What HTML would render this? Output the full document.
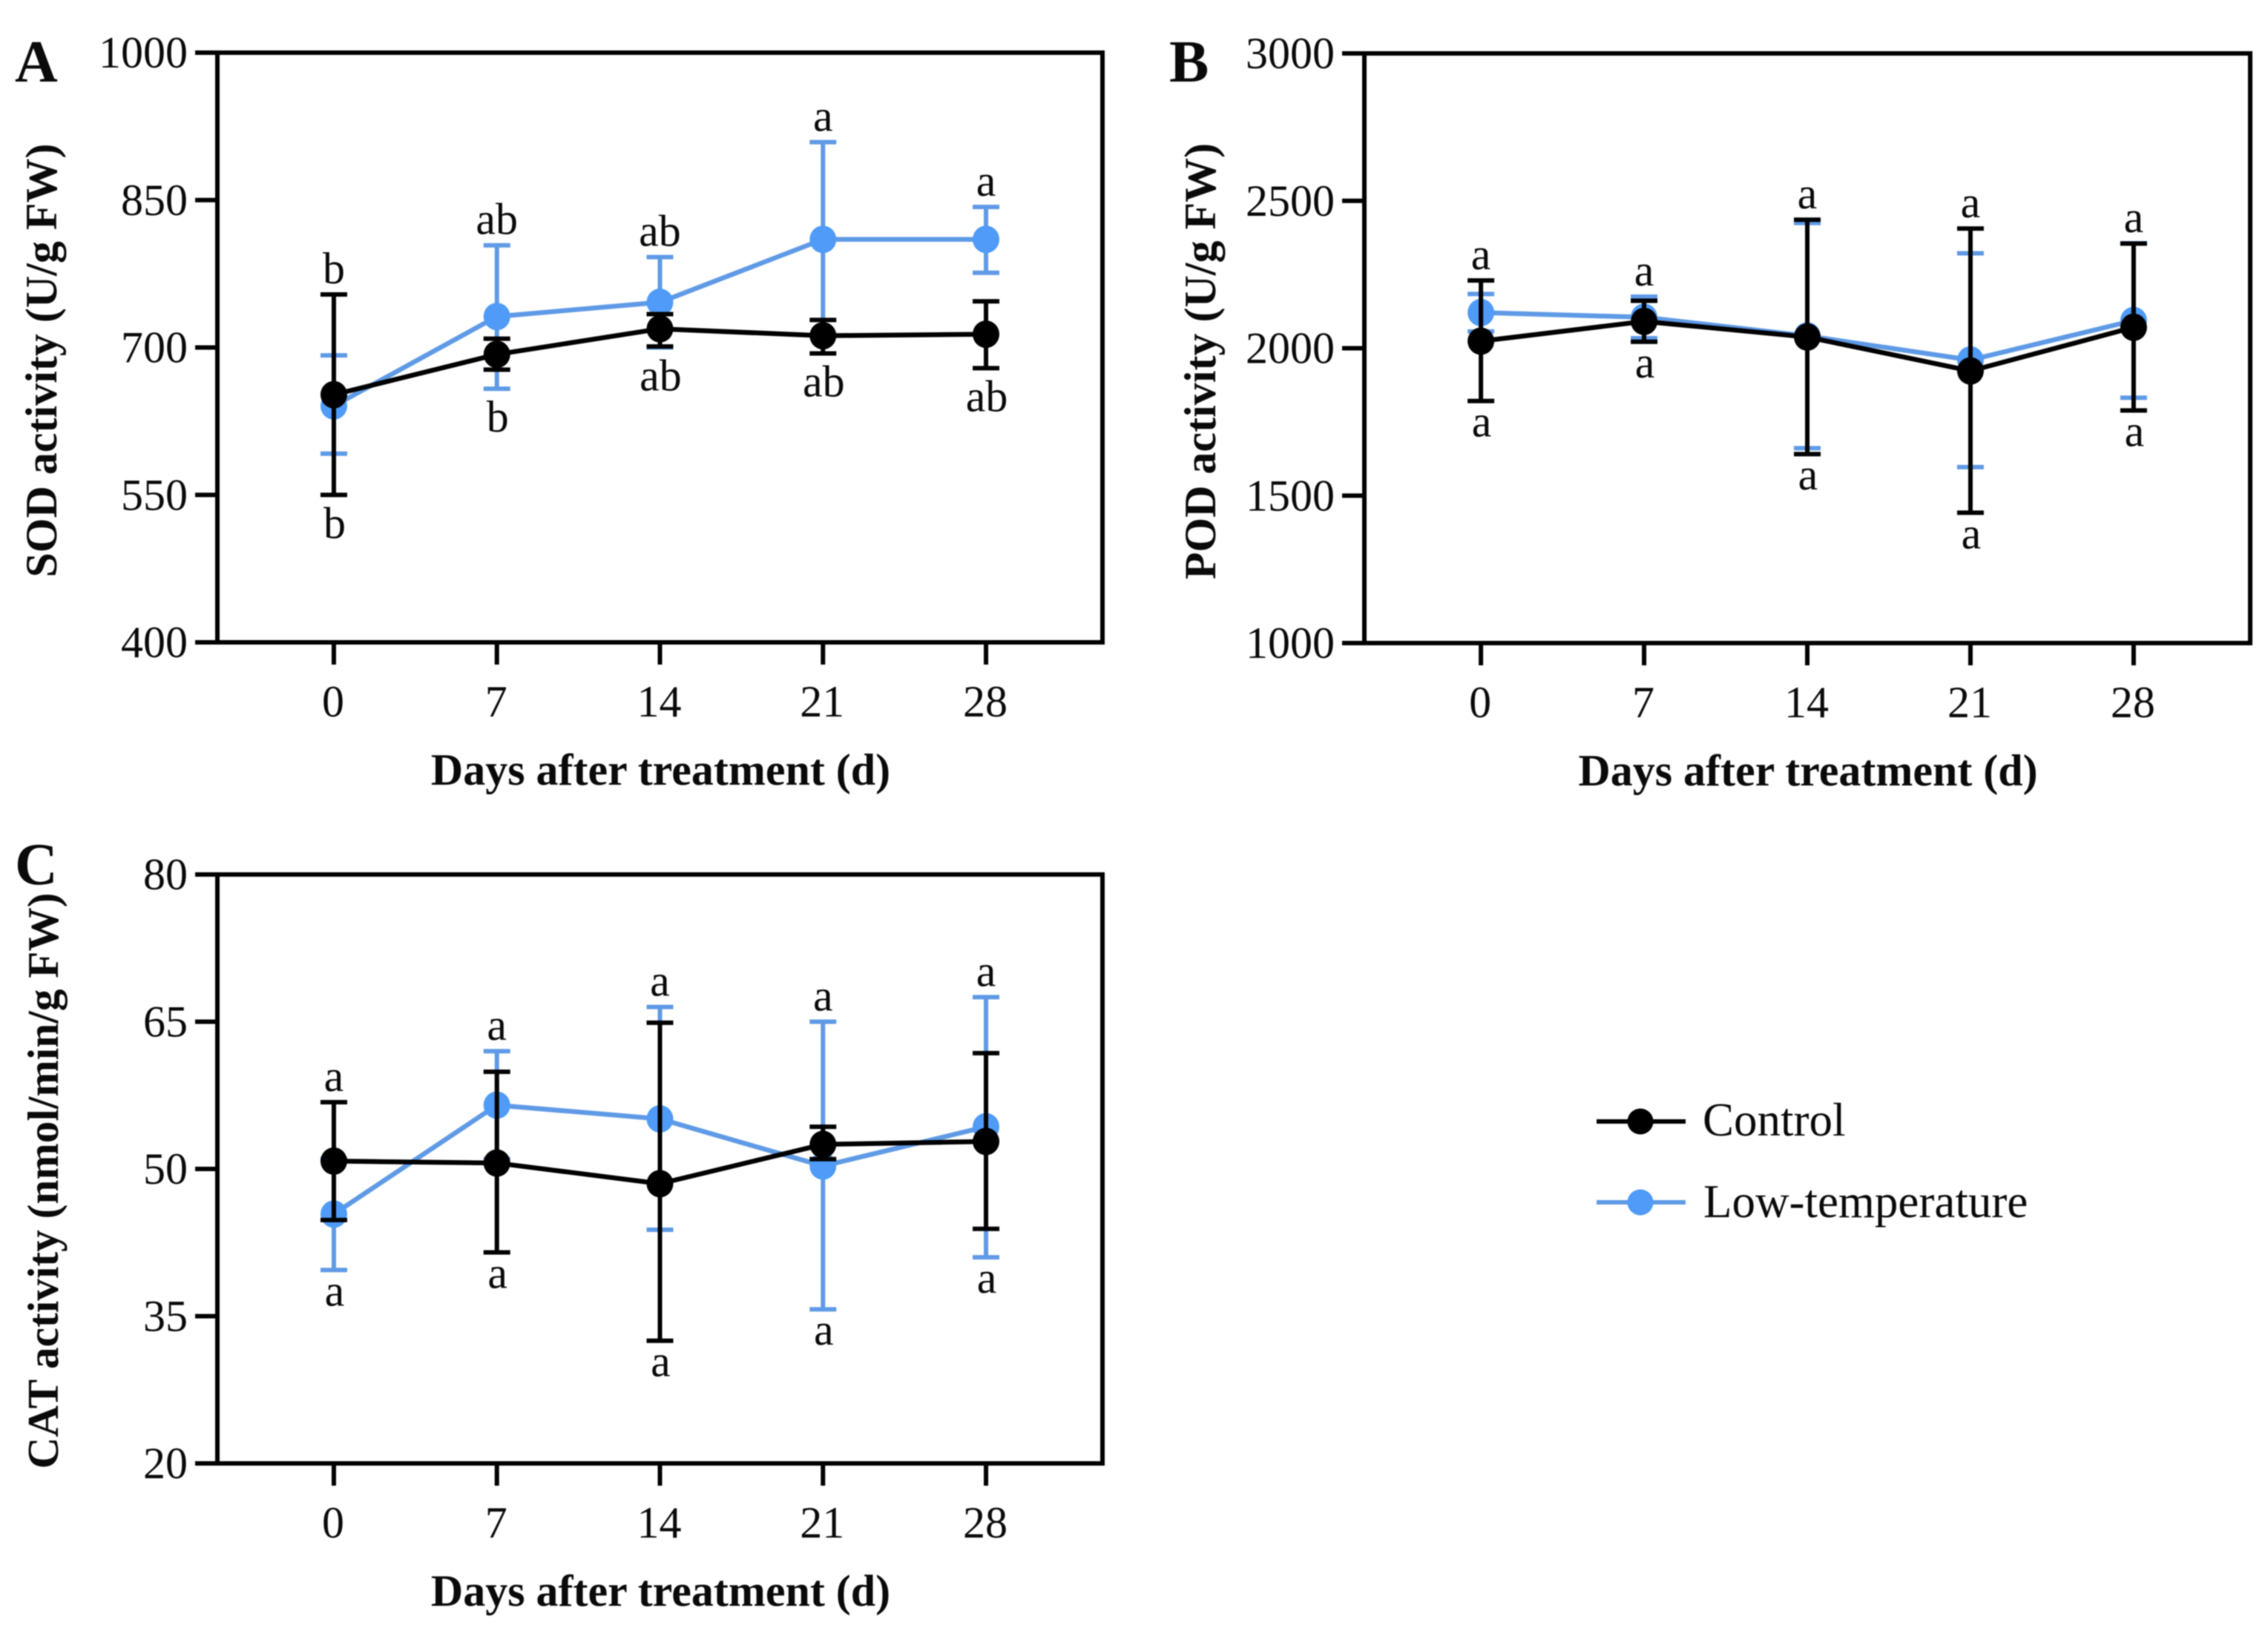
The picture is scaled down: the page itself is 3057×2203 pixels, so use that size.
<!DOCTYPE html>
<html lang="en">
<head>
<meta charset="utf-8">
<title>Antioxidant enzyme activity after low-temperature treatment</title>
<style>
  html, body { margin: 0; padding: 0; background: #fff; }
  svg { display: block; filter: blur(0.7px); }
  text { font-family: "Liberation Serif", serif; fill: #0a0a0a; }
</style>
</head>
<body>
<svg id="figure" xmlns="http://www.w3.org/2000/svg" width="3057" height="2203" viewBox="0 0 3057 2203">
  <rect x="0" y="0" width="3057" height="2203" fill="#ffffff"/>
  <g>
    <g>
      <line x1="2152" x2="2272" y1="1512" y2="1512" stroke="#000000" stroke-width="6"/>
      <circle cx="2211" cy="1512" r="17.5" fill="#000000"/>
      <text x="2295" y="1531" font-size="63">Control</text>
    </g>
    <g>
      <line x1="2152" x2="2272" y1="1621" y2="1621" stroke="#5f9ae6" stroke-width="6"/>
      <circle cx="2211" cy="1621" r="17.5" fill="#4f9bf7"/>
      <text x="2296" y="1641" font-size="63">Low-temperature</text>
    </g>
  </g>
</svg>
<script>
// Shared axis data
const days = [0, 7, 14, 21, 28];
const xTickLabels = ["0", "7", "14", "21", "28"];
const xAxisTitle = "Days after treatment (d)";

// Panel A: SOD
const sodTicks = [400, 550, 700, 850, 1000];
const sodControl = [652, 693, 719, 712, 713.5];
const sodControlUpper = [754, 709, 734, 728, 747];
const sodControlLower = [550, 677.5, 701, 694, 679];
const sodLow = [640.5, 731.5, 746, 810, 810];
const sodLowUpper = [692, 804, 792, 909, 843];
const sodLowLower = [592, 658, 700, 712, 776];
const sodTopLetters = ["b", "ab", "ab", "a", "a"];
const sodBottomLetters = ["b", "b", "ab", "ab", "ab"];

// Panel B: POD
const podTicks = [1000, 1500, 2000, 2500, 3000];
const podControl = [2024, 2091, 2038, 1923, 2071];
const podControlUpper = [2230, 2161, 2436, 2406, 2355];
const podControlLower = [1821, 2022, 1641, 1442, 1789];
const podLow = [2121, 2105, 2042, 1960, 2094];
const podLowUpper = [2184, 2175, 2425, 2322, 2356];
const podLowLower = [2057, 2034, 1661, 1597, 1832];
const podTopLetters = ["a", "a", "a", "a", "a"];
const podBottomLetters = ["a", "a", "a", "a", "a"];

// Panel C: CAT
const catTicks = [20, 35, 50, 65, 80];
const catControl = [50.8, 50.6, 48.5, 52.5, 52.8];
const catControlUpper = [56.8, 59.9, 64.9, 54.3, 61.8];
const catControlLower = [44.8, 41.5, 32.5, 51, 43.9];
const catLow = [45.4, 56.5, 55.1, 50.3, 54.3];
const catLowUpper = [51, 62, 66.5, 65, 67.5];
const catLowLower = [39.7, 51, 43.8, 35.7, 41];
const catTopLetters = ["a", "a", "a", "a", "a"];
const catBottomLetters = ["a", "a", "a", "a", "a"];

const NS = "http://www.w3.org/2000/svg";
const svg = document.getElementById("figure");
const BLACK = "#000000";
const BLUE_LINE = "#5f9ae6";
const BLUE_DOT = "#4f9bf7";
const X_DOMAIN = [-5, 33];

function shape(parent, tag, attrs, text) {
  const el = document.createElementNS(NS, tag);
  for (const k in attrs) el.setAttribute(k, attrs[k]);
  if (text !== undefined) el.textContent = text;
  parent.appendChild(el);
  return el;
}

function drawSeries(parent, p, name, color, dotColor, values, upper, lower, xs, ys) {
  const g = shape(parent, "g", {});
  
  

  days.forEach(function (d, i) {
    const x = xs(d);
    const stem = shape(g, "line", { x1: x, x2: x, y1: ys(upper[i]), y2: ys(lower[i]), stroke: color, "stroke-width": 6 });
    
    
    const capTop = shape(g, "line", { x1: x - 18, x2: x + 18, y1: ys(upper[i]), y2: ys(upper[i]), stroke: color, "stroke-width": 6 });
    
    
    const capBottom = shape(g, "line", { x1: x - 18, x2: x + 18, y1: ys(lower[i]), y2: ys(lower[i]), stroke: color, "stroke-width": 6 });
    
    
  });

  const pts = days.map(function (d, i) { return xs(d) + "," + ys(values[i]); }).join(" ");
  const line = shape(g, "polyline", { points: pts, fill: "none", stroke: color, "stroke-width": 6.5, "stroke-linejoin": "round" });
  
  

  days.forEach(function (d, i) {
    const dot = shape(g, "ellipse", { cx: xs(d), cy: ys(values[i]), rx: 18, ry: 18.5, fill: dotColor });
    
    
  });
}

function drawPanel(p) {
  const g = shape(svg, "g", {});
  
  

  const yLo = p.ticks[0];
  const yHi = p.ticks[p.ticks.length - 1];
  const xs = function (v) { return p.left + (v - X_DOMAIN[0]) / (X_DOMAIN[1] - X_DOMAIN[0]) * (p.right - p.left); };
  const ys = function (v) { return p.bottom - (v - yLo) / (yHi - yLo) * (p.bottom - p.top); };

  const frame = shape(g, "rect", { x: p.left, y: p.top, width: p.right - p.left, height: p.bottom - p.top, fill: "none", stroke: BLACK, "stroke-width": 6 });
  
  

  p.ticks.forEach(function (t) {
    const tick = shape(g, "line", { x1: p.left - 30, x2: p.left, y1: ys(t), y2: ys(t), stroke: BLACK, "stroke-width": 6 });
    
    
    const label = shape(g, "text", { x: p.left - 40, y: ys(t) + 20, "font-size": 60, "text-anchor": "end" }, String(t));
    
    
  });

  days.forEach(function (d, i) {
    const tick = shape(g, "line", { x1: xs(d), x2: xs(d), y1: p.bottom, y2: p.bottom + 30, stroke: BLACK, "stroke-width": 6 });
    
    
    const label = shape(g, "text", { x: xs(d) - 1, y: p.bottom + 100, "font-size": 60, "text-anchor": "middle" }, xTickLabels[i]);
    
    
  });

  const xTitle = shape(g, "text", { x: (p.left + p.right) / 2 + 1, y: p.bottom + 192, "font-size": 60, "font-weight": "bold", "text-anchor": "middle" }, xAxisTitle);
  
  

  const yTitle = shape(g, "text", { transform: "translate(" + p.yTitleX + "," + p.yTitleY + ") rotate(-90)", "font-size": p.yTitleSize, "font-weight": "bold", "text-anchor": "middle" }, p.yTitle);
  
  

  const letter = shape(g, "text", { x: p.letterX, y: p.letterY, "font-size": 80, "font-weight": "bold" }, p.id);
  
  

  drawSeries(g, p, "low-temperature", BLUE_LINE, BLUE_DOT, p.low, p.lowUpper, p.lowLower, xs, ys);
  drawSeries(g, p, "control", BLACK, BLACK, p.control, p.controlUpper, p.controlLower, xs, ys);

  days.forEach(function (d, i) {
    const topY = ys(Math.max(p.controlUpper[i], p.lowUpper[i])) - 15;
    const top = shape(g, "text", { x: xs(d), y: topY, "font-size": 60, "text-anchor": "middle" }, p.topLetters[i]);
    
    
    const hasAscender = p.bottomLetters[i].indexOf("b") >= 0;
    const bottomY = ys(Math.min(p.controlLower[i], p.lowLower[i])) + (hasAscender ? 58 : 48);
    const bottom = shape(g, "text", { x: xs(d) + 1, y: bottomY, "font-size": 60, "text-anchor": "middle" }, p.bottomLetters[i]);
    
    
  });
}

drawPanel({
  id: "A", left: 293, right: 1486, top: 71, bottom: 866,
  ticks: sodTicks, yTitle: "SOD activity (U/g FW)", yTitleSize: 60, yTitleX: 76, yTitleY: 486, letterX: 20, letterY: 110,
  control: sodControl, controlUpper: sodControlUpper, controlLower: sodControlLower,
  low: sodLow, lowUpper: sodLowUpper, lowLower: sodLowLower,
  topLetters: sodTopLetters, bottomLetters: sodBottomLetters
});
drawPanel({
  id: "B", left: 1839, right: 3033, top: 72, bottom: 867,
  ticks: podTicks, yTitle: "POD activity (U/g FW)", yTitleSize: 60, yTitleX: 1638, yTitleY: 487, letterX: 1576, letterY: 110,
  control: podControl, controlUpper: podControlUpper, controlLower: podControlLower,
  low: podLow, lowUpper: podLowUpper, lowLower: podLowLower,
  topLetters: podTopLetters, bottomLetters: podBottomLetters
});
drawPanel({
  id: "C", left: 293, right: 1486, top: 1179, bottom: 1973,
  ticks: catTicks, yTitle: "CAT activity (nmol/min/g FW)", yTitleSize: 59.3, yTitleX: 78, yTitleY: 1592, letterX: 20, letterY: 1192,
  control: catControl, controlUpper: catControlUpper, controlLower: catControlLower,
  low: catLow, lowUpper: catLowUpper, lowLower: catLowLower,
  topLetters: catTopLetters, bottomLetters: catBottomLetters
});
</script>
</body>
</html>
